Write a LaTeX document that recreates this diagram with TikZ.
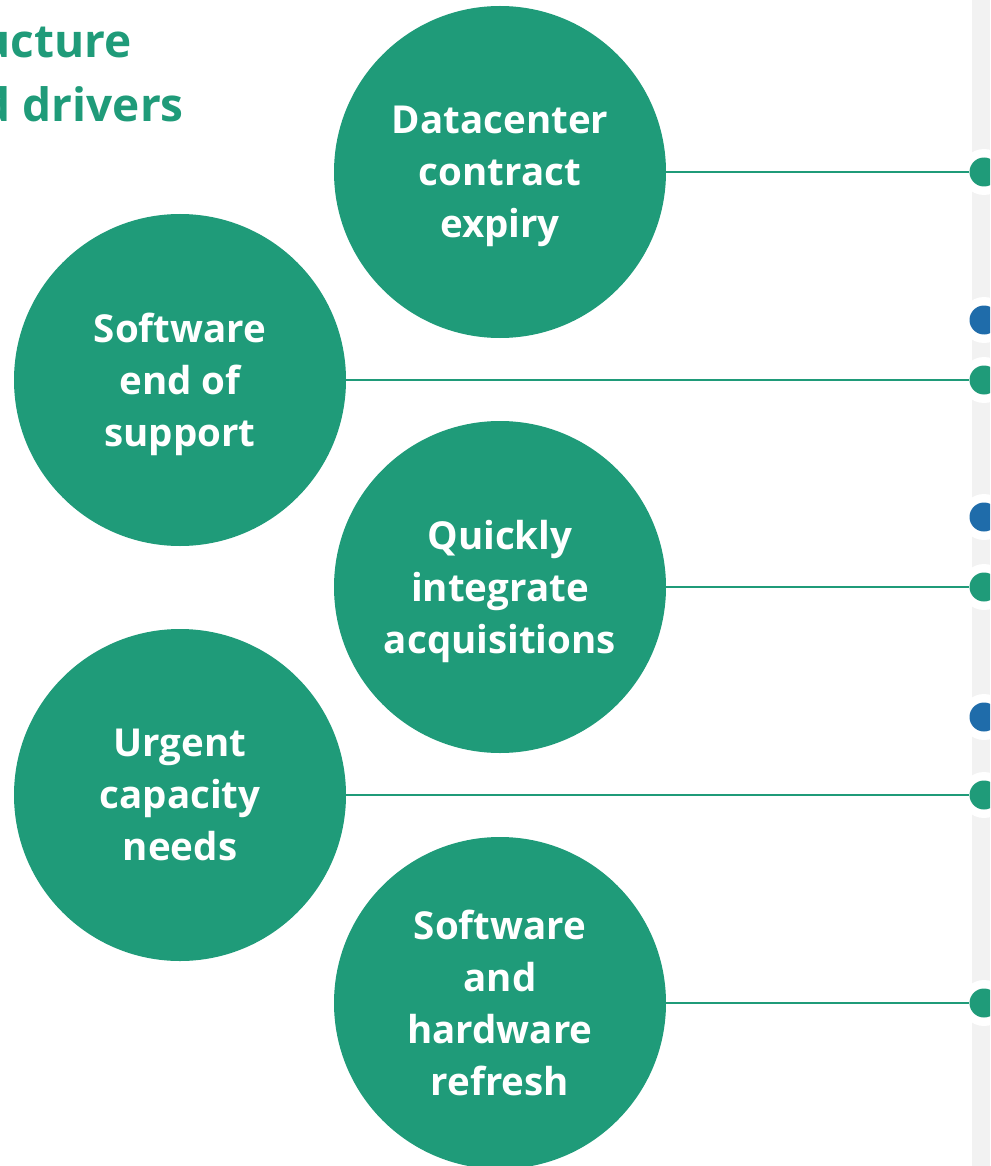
\documentclass[tikz,border=0pt]{standalone}
\usepackage{fontspec}
\setmainfont{Open Sans}
\begin{document}
\begin{tikzpicture}[x=1pt,y=-1pt]
	\tikzstyle{driver}=[circle, minimum size=332pt, inner sep=0pt, text depth=-4pt, fill={rgb,255:red,31; green,155; blue,121}, text={rgb,255:red,255; green,255; blue,255}, font=\fontsize{38.5}{52}\selectfont\bfseries, align=center]
	\tikzstyle{heading}=[anchor=base east, inner sep=0pt, text={rgb,255:red,31; green,155; blue,121}, font=\fontsize{46}{64}\selectfont\bfseries]
	\tikzstyle{halo}=[circle, minimum size=46pt, inner sep=0pt, fill={rgb,255:red,255; green,255; blue,255}]
	\tikzstyle{greendot}=[circle, minimum size=29pt, inner sep=0pt, fill={rgb,255:red,31; green,155; blue,121}]
	\tikzstyle{bluedot}=[circle, minimum size=29pt, inner sep=0pt, fill={rgb,255:red,31; green,108; blue,170}]
	\tikzstyle{link}=[color={rgb,255:red,31; green,155; blue,121}, line width=1.3pt]
	\useasboundingbox (0,0) rectangle (990,1166);
	\clip (0,0) rectangle (990,1166);
	\fill [color={rgb,255:red,242; green,242; blue,242}] (972,0) rectangle (990,1166);
	% heading, cut off at the left edge
	\node [heading] (headA) at (132,58) {Infrastructure};
	\node [heading] (headB) at (184,122) {and drivers};
	% drivers
	\node [driver] (datacenter) at (500,172) {Datacenter\\contract\\expiry};
	\node [driver] (support) at (180,380) {Software\\end of\\support};
	\node [driver] (acquire) at (500,587) {Quickly\\integrate\\acquisitions};
	\node [driver] (capacity) at (180,795) {Urgent\\capacity\\needs};
	\node [driver] (refresh) at (500,1003) {Software\\and\\hardware\\refresh};
	% timeline dots
	\foreach \y in {172,320,380,517,587,717,795,1003}
		\node [halo] at (984,\y) {};
	\node [greendot] (dotA) at (984,172) {};
	\node [bluedot] (markA) at (984,320) {};
	\node [greendot] (dotB) at (984,380) {};
	\node [bluedot] (markB) at (984,517) {};
	\node [greendot] (dotC) at (984,587) {};
	\node [bluedot] (markC) at (984,717) {};
	\node [greendot] (dotD) at (984,795) {};
	\node [greendot] (dotE) at (984,1003) {};
	% links
	\draw [link] (datacenter.east) -- (dotA.west);
	\draw [link] (support.east) -- (dotB.west);
	\draw [link] (acquire.east) -- (dotC.west);
	\draw [link] (capacity.east) -- (dotD.west);
	\draw [link] (refresh.east) -- (dotE.west);
\end{tikzpicture}
\end{document}
